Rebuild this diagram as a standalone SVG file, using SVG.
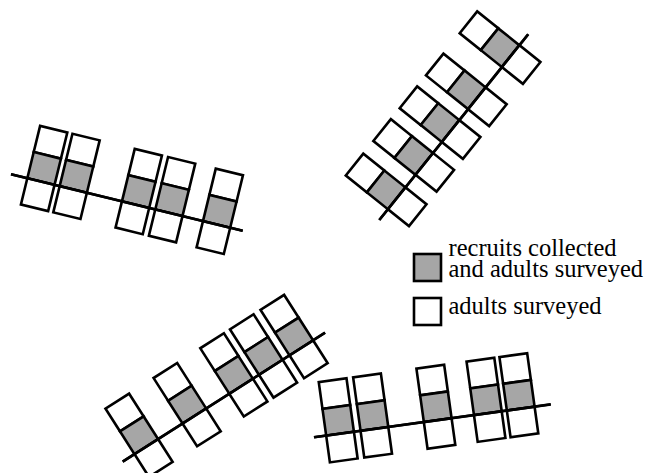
<svg xmlns="http://www.w3.org/2000/svg" xmlns:xlink="http://www.w3.org/1999/xlink" width="646" height="473" viewBox="0 0 646 473">
<style>
.w{fill:#fff;stroke:#000;stroke-width:2.6}
.g{fill:#a6a6a6;stroke:#000;stroke-width:2.6}
.ln{stroke:#000;stroke-width:2.6;fill:none}
.t{font-family:"Liberation Serif","Times New Roman",serif;font-size:24.5px;fill:#000}
</style>
<defs>
<g id="col">
<rect x="-14" y="-54" width="28" height="27" class="w"/>
<rect x="-14" y="-27" width="28" height="27" class="g"/>
<rect x="-14" y="0" width="28" height="27" class="w"/>
</g>
</defs>
<rect width="646" height="473" fill="#fff"/>
<g id="connectors">
<line class="ln" x1="11" y1="174.3" x2="242.7" y2="230.7"/>
<line class="ln" x1="379.3" y1="220" x2="528.3" y2="34.3"/>
<line class="ln" x1="122.7" y1="461.7" x2="325" y2="332.7"/>
<line class="ln" x1="314" y1="437.3" x2="550.7" y2="404.3"/>
</g>
<g id="transect1" transform="translate(11,174.3) rotate(13.7)">
<use xlink:href="#col" x="30.8"/>
<use xlink:href="#col" x="64.1"/>
<use xlink:href="#col" x="128.2"/>
<use xlink:href="#col" x="162.5"/>
<use xlink:href="#col" x="211.6"/>
<line class="ln" x1="0" y1="0" x2="238.5" y2="0"/>
</g>
<g id="transect2" transform="translate(379.3,220) rotate(-51.3)">
<use xlink:href="#col" x="27.8"/>
<use xlink:href="#col" x="71.9"/>
<use xlink:href="#col" x="114"/>
<use xlink:href="#col" x="156"/>
<use xlink:href="#col" x="210"/>
<line class="ln" x1="0" y1="0" x2="238" y2="0"/>
</g>
<g id="transect3" transform="translate(122.7,461.7) rotate(-32.5)">
<use xlink:href="#col" x="28"/>
<use xlink:href="#col" x="85"/>
<use xlink:href="#col" x="140.4"/>
<use xlink:href="#col" x="175.6"/>
<use xlink:href="#col" x="211.8"/>
<line class="ln" x1="0" y1="0" x2="240" y2="0"/>
</g>
<g id="transect4" transform="translate(314,437.3) rotate(-7.9)">
<use xlink:href="#col" x="26.3"/>
<use xlink:href="#col" x="61"/>
<use xlink:href="#col" x="124.9"/>
<use xlink:href="#col" x="175.5"/>
<use xlink:href="#col" x="208.7"/>
<line class="ln" x1="0" y1="0" x2="239" y2="0"/>
</g>
<g id="legend">
<rect x="414" y="254" width="27" height="27" class="g"/>
<rect x="414" y="298" width="27" height="27" class="w"/>
<text class="t" x="448.5" y="255.5"><tspan x="448.5" y="255.5">recruits collected</tspan><tspan x="448.5" y="276.5">and adults surveyed</tspan></text>
<text class="t" x="448.5" y="314">adults surveyed</text>
</g>
</svg>
